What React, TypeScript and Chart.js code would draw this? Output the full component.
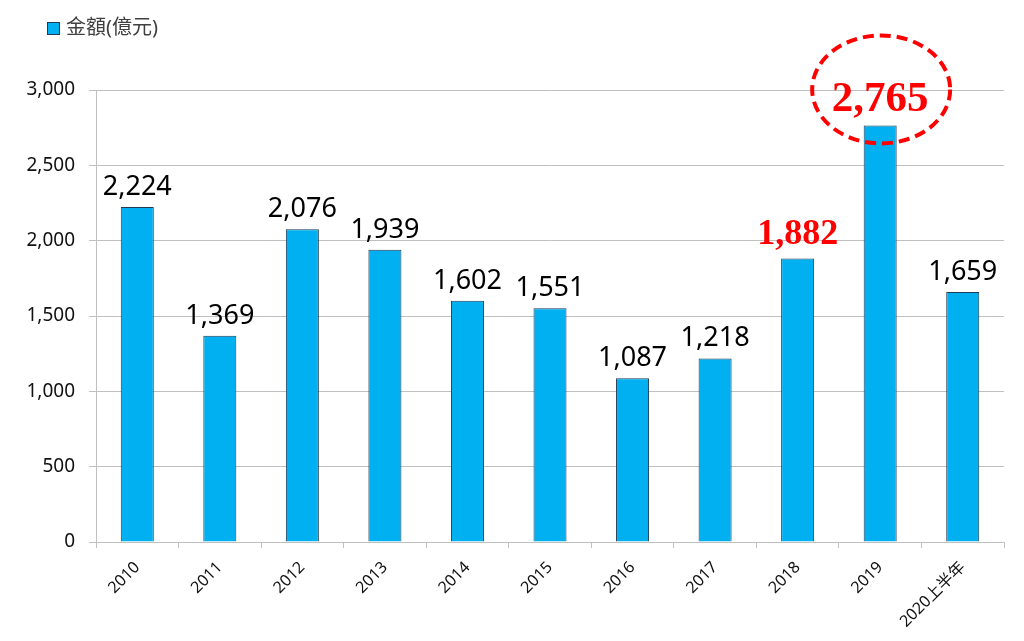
import React, { useEffect, useRef } from "react";
import { Chart, registerables } from "chart.js";

Chart.register(...registerables);

const categories: string[] = ["2010", "2011", "2012", "2013", "2014", "2015", "2016", "2017", "2018", "2019", "2020上半年"];
const amounts: number[] = [2224, 1369, 2076, 1939, 1602, 1551, 1087, 1218, 1882, 2765, 1659];
const seriesName = "金額(億元)";
const yTicks: number[] = [0, 500, 1000, 1500, 2000, 2500, 3000];

const fmt = (v: number) => v.toLocaleString("en-US");

const SANS = '"Noto Sans", "Noto Sans CJK TC", sans-serif';

const labelPlugin = {
  id: "barLabels",
  afterDatasetsDraw(chart: any) {
    const ctx = chart.ctx as CanvasRenderingContext2D;
    const meta = chart.getDatasetMeta(0);
    ctx.save();
    ctx.textAlign = "center";
    ctx.textBaseline = "alphabetic";
    meta.data.forEach((bar: any, i: number) => {
      const v = amounts[i];
      let font = `27px ${SANS}`;
      let color = "#000000";
      let off = 12;
      if (i === 8) {
        font = `bold 36px "Liberation Serif", serif`;
        color = "#ff0000";
        off = 14;
      } else if (i === 9) {
        font = `bold 43px "Liberation Serif", serif`;
        color = "#ff0000";
        off = 14;
      }
      ctx.font = font;
      ctx.fillStyle = color;
      ctx.fillText(fmt(v), bar.x, bar.y - off);
      if (i === 9) {
        ctx.save();
        ctx.strokeStyle = "#ff0000";
        ctx.lineWidth = 4;
        ctx.setLineDash([11, 6]);
        ctx.beginPath();
        ctx.ellipse(bar.x + 1, bar.y - 36, 69, 54, 0, 0, Math.PI * 2);
        ctx.stroke();
        ctx.restore();
      }
    });
    ctx.restore();
  },
};

const legendPlugin = {
  id: "customLegend",
  afterDraw(chart: any) {
    const ctx = chart.ctx as CanvasRenderingContext2D;
    ctx.save();
    ctx.fillStyle = "#00b0f0";
    ctx.fillRect(47.5, 22.5, 12, 12);
    ctx.strokeStyle = "#1f3a55";
    ctx.lineWidth = 1;
    ctx.strokeRect(47.5, 22.5, 12, 12);
    ctx.font = `20px ${SANS}`;
    ctx.fillStyle = "#404040";
    ctx.textAlign = "left";
    ctx.textBaseline = "middle";
    ctx.fillText(seriesName, 66, 28);
    ctx.restore();
  },
};

export default function App() {
  const ref = useRef<HTMLCanvasElement | null>(null);
  useEffect(() => {
    if (!ref.current) return;
    const chart = new Chart(ref.current, {
      type: "bar",
      data: {
        labels: categories,
        datasets: [
          {
            label: seriesName,
            data: amounts,
            backgroundColor: "#00b0f0",
            borderColor: "#1f3a55",
            borderWidth: 1,
            borderSkipped: "bottom",
            categoryPercentage: 1,
            barPercentage: 0.4,
          },
        ],
      },
      options: {
        animation: false,
        responsive: true,
        maintainAspectRatio: false,
        layout: { padding: { left: 0, right: 20, top: 90, bottom: 0 } },
        plugins: {
          legend: { display: false },
          tooltip: { enabled: false },
        },
        scales: {
          x: {
            grid: {
              offset: true,
              drawOnChartArea: false,
              drawTicks: true,
              tickLength: 6,
              color: "#c0c0c0",
            },
            border: { color: "#c0c0c0", width: 1 },
            ticks: {
              minRotation: 45,
              maxRotation: 45,
              autoSkip: false,
              padding: 10,
              color: "#111111",
              font: { family: SANS, size: 16 },
            },
            afterFit(scale: any) {
              scale.height = 99;
              scale.paddingLeft = 0;
              scale.paddingRight = 0;
            },
          },
          y: {
            min: 0,
            max: 3000,
            afterBuildTicks(scale: any) {
              scale.ticks = yTicks.map((v) => ({ value: v }));
            },
            grid: {
              color: "#c0c0c0",
              tickLength: 7,
              drawTicks: true,
            },
            border: { color: "#c0c0c0", width: 1 },
            ticks: {
              padding: 14,
              color: "#111111",
              font: { family: SANS, size: 19 },
              callback: (v: any) => fmt(Number(v)),
            },
            afterFit(scale: any) {
              scale.width = 96;
            },
          },
        },
      },
      plugins: [labelPlugin, legendPlugin],
    });
    return () => chart.destroy();
  }, []);
  return (
    <div style={{ position: "absolute", left: 0, top: 0, width: 1024, height: 641, background: "#ffffff" }}>
      <canvas ref={ref} />
    </div>
  );
}
